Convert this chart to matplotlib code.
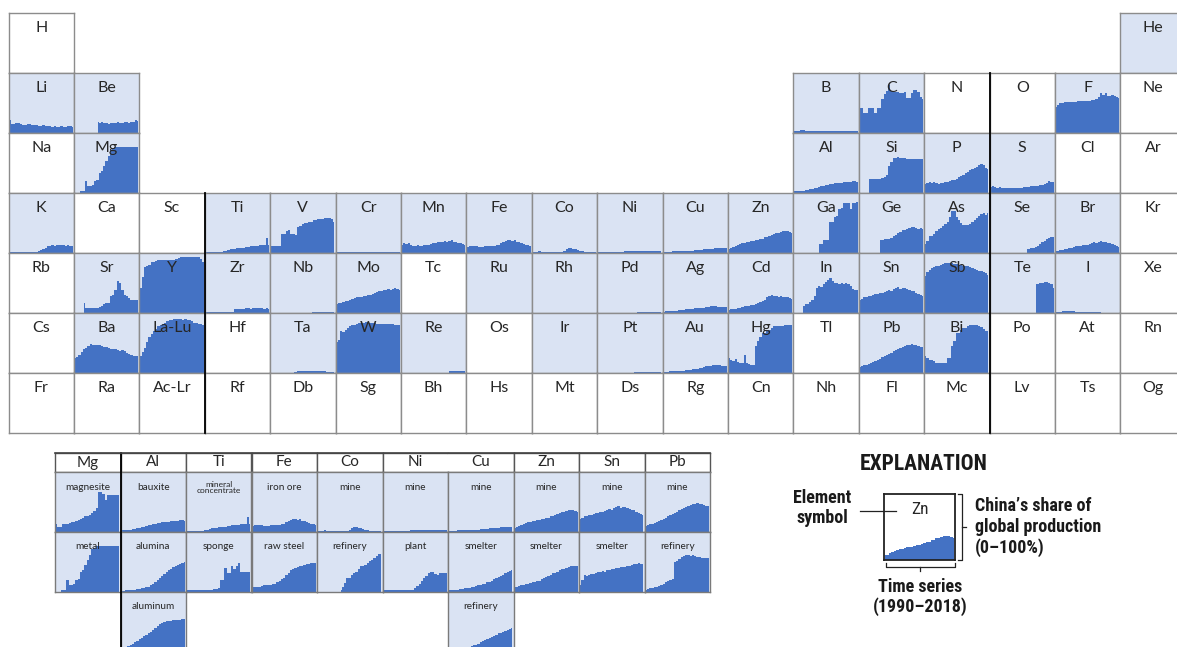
import numpy as np
import matplotlib
matplotlib.use('Agg')
import matplotlib.pyplot as plt
from matplotlib import font_manager

nan = np.nan
years = list(range(1990, 2019))

# China's share of global production (percent)
li = [22,15,15,16,16,15,14,14,15,15,14,13,13,12,12,13,12,11,11,10,11,10,10,11,10,10,11,11,10]
be = [nan]*10 + [19,17,18,16,17,15,16,17,16,18,16,17,18,19,17,19,18,21,20]
mg_metal = [nan,nan,3,3,3,20,11,11,13,20,22,33,37,45,54,62,71,74,77,77,77,77,77,77,77,77,77,77,77]
mg_magnesite = [14,9,9,14,14,14,15,16,17,18,20,22,24,26,27,28,31,35,40,66,66,63,54,61,61,61,61,61,61]
b = [3,4,4,5,5,4,3,3,3,3] + [3]*19
c = [42,42,33,33,42,42,42,33,42,42,56,65,70,80,70,68,68,68,67,66,68,59,59,66,71,71,68,60,56]
f = [44,47,50,50,51,51,51,52,52,52,53,53,53,54,54,54,55,55,56,60,66,64,66,62,62,63,61,60,59]
al_bauxite = [3,3,3,4,4,5,5,6,7,8,9,10,11,12,13,14,15,15,16,16,17,17,18,18,19,19,20,20,19]
al_alumina = [2,2,3,3,3,4,4,5,5,6,7,8,9,11,14,17,20,24,27,30,33,36,38,41,43,45,47,49,50]
al_aluminum = [4,6,8,10,12,14,16,19,22,24,26,28,31,34,37,40,43,46,48,50,51,52,52,53,53,54,54,55,55]
si = [nan,nan,nan,nan,23,23,23,23,23,24,25,27,30,45,52,59,59,60,59,58,59,57,57,57,56,57,56,57,56]
p = [15,16,18,17,19,16,15,16,17,18,19,20,21,22,24,26,28,30,33,35,38,40,42,44,46,48,47,42,40]
s = [10,11,10,9,10,9,9,8,8,8,9,8,8,9,9,10,10,10,11,12,12,12,13,13,15,17,20,19,18]
k = [1]*12 + [2,3,5,7,9,11,12,13,12,13,14,13,14,12,13,12,11]
ti_concentrate = [2,2,2,2,2,2,2,2,3,3,5,6,7,7,8,8,9,9,10,10,11,11,12,12,13,13,14,25,14]
ti_sponge = [4,4,4,4,4,4,4,4,4,4,4,4,5,5,6,20,20,40,31,31,43,38,43,49,34,34,34,34,34]
v = [12,12,12,12,12,32,32,36,38,32,31,30,43,45,48,50,50,51,52,55,55,56,56,57,58,58,58,56,52]
cr = [1]*29
mn = [14,16,15,17,13,12,12,13,12,12,13,13,14,15,16,17,18,19,18,20,19,20,21,19,18,17,16,15,13]
fe_ore = [10,11,11,11,11,10,10,10,11,11,11,12,12,13,14,16,18,20,21,22,20,21,19,18,16,15,14,13,12]
fe_steel = [8,8,9,9,10,11,11,12,12,13,14,16,18,21,24,28,32,36,38,40,42,43,44,45,46,47,48,48,48]
co_mine = [1,1,2,4,1,1,1,1,1,1,1,1,2,2,3,7,8,8,7,6,5,3,3,2,2,2,2,2,2]
co_refinery = [nan]*10 + [3,8,15,23,23,28,32,34,38,43,43,45,48,51,54,57,60,63,63]
ni_mine = [2]*12 + [3]*17
ni_plant = [3]*13 + [4,6,10,14,18,23,27,31,34,34,30,29,31,31,31,31]
cu_mine = [2,2,2,2,3,3,3,3,3,3,4,4,4,4,5,5,5,5,6,6,7,7,7,8,8,8,8,8,8]
cu_smelter = [3,3,3,4,4,5,5,6,6,7,8,9,10,11,12,13,14,16,17,19,21,23,25,27,29,31,33,35,36]
cu_refinery = [3,3,4,4,5,5,6,7,8,9,10,11,12,14,16,18,20,22,24,25,27,29,31,32,34,35,36,38,40]
zn_mine = [7,8,10,12,14,15,16,17,18,19,20,20,21,22,23,24,26,27,28,30,31,33,34,35,37,37,36,35,34]
zn_smelter = [8,9,10,11,12,13,14,15,16,17,18,19,21,23,25,27,29,31,32,34,36,38,39,40,42,43,44,44,43]
ga = [nan]*11 + [15,15,21,21,21,51,51,60,62,73,75,84,84,84,73,84,84,85]
ge = [nan]*9 + [22,22,23,23,24,25,28,30,33,35,38,38,40,42,43,43,42,40,41,40]
as_ = [15,20,29,29,32,36,40,42,45,48,51,60,70,70,60,55,50,47,46,46,48,52,55,59,62,65,66,64,66]
se = [nan]*16 + [7,7,8,8,10,12,15,18,20,23,25,27,26]
br = [3,4,5,5,6,7,8,9,10,11,12,12,13,14,14,15,16,18,17,19,20,18,19,17,16,15,14,12,10]
sr = [nan,nan,nan,nan,17,9,8,8,8,9,9,10,11,15,17,17,28,30,39,53,50,39,30,28,25,22,22,21,22]
y_ = [41,60,76,78,80,85,85,86,88,88,88,88,88,88,88,89,90,92,94,94,94,94,94,94,94,94,94,90,85]
zr = [1]*13 + [6,7,7,7,7,8,8,7,8,8,8,8,8,7,8,7]
nb = [nan]*18 + [1]*11
mo = [15,16,17,18,20,20,22,24,25,26,27,27,28,28,30,30,32,34,35,36,37,38,39,40,38,40,41,40,39]
pd_ = [nan]*17 + [1]*12
ag = [2,3,3,3,4,4,4,5,5,5,6,6,7,7,8,8,8,9,9,10,10,11,11,11,10,10,10,10,10]
cd = [5,6,6,7,8,9,10,11,12,12,13,14,15,16,18,20,22,26,28,30,29,28,27,28,27,26,26,25,24]
in_ = [nan,nan,nan,nan,12,15,15,18,22,28,42,45,44,48,52,55,59,54,50,50,48,50,49,50,48,45,40,38,38]
sn_mine = [22,24,26,27,28,28,30,31,32,33,34,35,36,38,37,40,42,44,40,42,41,40,38,37,36,34,32,30,28]
sn_smelter = [12,20,28,26,28,30,30,32,33,34,35,34,36,37,38,38,40,40,41,42,42,43,44,45,46,47,48,47,46]
sb = [62,68,72,75,77,78,79,80,82,83,83,84,83,82,81,80,80,79,78,78,77,75,74,72,70,70,68,66,64]
te = [nan]*20 + [48,48,50,50,52,52,50,48,42]
i_ = [2,2,2,3,3,3,3,3,3,2,2,2,2,2,2,2,2,2,2,2,2] + [nan]*8
ba = [25,27,30,35,40,42,45,48,47,46,47,46,45,44,43,42,40,40,40,38,37,38,36,34,32,30,29,28,28]
la_lu = [28,35,42,52,60,65,70,74,78,80,82,84,86,88,89,90,90,90,90,88,90,89,88,86,84,83,82,81,80]
ta = [nan]*10 + [2,2,3,3,3,3,4,4,4,3,3,3,3,3,3,2,2,2,2]
w = [52,55,70,68,72,75,78,80,80,82,83,83,84,85,85,84,83,83,82,82,82,82,82,81,81,81,80,80,80]
re = [nan]*21 + [3]*8
pt = [nan]*16 + [1]*13
au = [2,2,2,3,3,3,3,4,4,4,5,5,5,6,6,7,8,9,10,11,12,12,13,13,13,13,12,12,12]
hg = [25,22,20,24,18,17,16,30,16,15,14,14,45,53,60,67,67,70,72,75,78,78,78,78,78,80,80,80,80]
pb_mine = [10,12,13,14,15,17,18,20,22,24,26,28,30,32,34,36,38,40,42,44,45,46,47,48,47,46,45,44,44]
pb_refinery = [4,5,6,7,8,9,10,12,14,16,18,20,22,50,52,55,58,60,62,61,60,61,60,58,58,57,57,56,56]
bi = [28,25,22,22,20,17,17,17,17,17,25,25,45,53,67,67,72,75,75,78,80,80,80,80,78,76,74,70,70]

# periodic table layout
rows = [
    ['H'] + ['']*16 + ['He'],
    ['Li','Be'] + ['']*10 + ['B','C','N','O','F','Ne'],
    ['Na','Mg'] + ['']*10 + ['Al','Si','P','S','Cl','Ar'],
    ['K','Ca','Sc','Ti','V','Cr','Mn','Fe','Co','Ni','Cu','Zn','Ga','Ge','As','Se','Br','Kr'],
    ['Rb','Sr','Y','Zr','Nb','Mo','Tc','Ru','Rh','Pd','Ag','Cd','In','Sn','Sb','Te','I','Xe'],
    ['Cs','Ba','La-Lu','Hf','Ta','W','Re','Os','Ir','Pt','Au','Hg','Tl','Pb','Bi','Po','At','Rn'],
    ['Fr','Ra','Ac-Lr','Rf','Db','Sg','Bh','Hs','Mt','Ds','Rg','Cn','Nh','Fl','Mc','Lv','Ts','Og'],
]
series = {'Li': li, 'Be': be, 'Mg': mg_metal, 'B': b, 'C': c, 'F': f, 'Al': al_bauxite,
          'Si': si, 'P': p, 'S': s, 'K': k, 'Ti': ti_concentrate, 'V': v, 'Cr': cr, 'Mn': mn,
          'Fe': fe_ore, 'Co': co_mine, 'Ni': ni_mine, 'Cu': cu_mine, 'Zn': zn_mine, 'Ga': ga,
          'Ge': ge, 'As': as_, 'Se': se, 'Br': br, 'Sr': sr, 'Y': y_, 'Zr': zr, 'Nb': nb,
          'Mo': mo, 'Pd': pd_, 'Ag': ag, 'Cd': cd, 'In': in_, 'Sn': sn_mine, 'Sb': sb,
          'Te': te, 'I': i_, 'Ba': ba, 'La-Lu': la_lu, 'Ta': ta, 'W': w, 'Re': re, 'Pt': pt,
          'Au': au, 'Hg': hg, 'Pb': pb_mine, 'Bi': bi}
shaded_empty = ['He', 'Ru', 'Rh', 'Ir']

# commodity table below
sub_heads = ['Mg', 'Al', 'Ti', 'Fe', 'Co', 'Ni', 'Cu', 'Zn', 'Sn', 'Pb']
sub_row1 = [('magnesite', mg_magnesite), ('bauxite', al_bauxite), ('mineral\nconcentrate', ti_concentrate),
            ('iron ore', fe_ore), ('mine', co_mine), ('mine', ni_mine), ('mine', cu_mine),
            ('mine', zn_mine), ('mine', sn_mine), ('mine', pb_mine)]
sub_row2 = [('metal', mg_metal), ('alumina', al_alumina), ('sponge', ti_sponge),
            ('raw steel', fe_steel), ('refinery', co_refinery), ('plant', ni_plant),
            ('smelter', cu_smelter), ('smelter', zn_smelter), ('smelter', sn_smelter),
            ('refinery', pb_refinery)]
sub_row3 = {1: ('aluminum', al_aluminum), 6: ('refinery', cu_refinery)}

BLUE = '#4472c4'
LIGHT = '#dae3f3'
EDGE = '#8c8c8c'
TXT = '#262626'
FONT = ['Lato', 'DejaVu Sans']

# pick a narrow face for the explanation, if one is installed
names = {fe.name for fe in font_manager.fontManager.ttflist}
NARROW = ['DejaVu Sans']
for cand in ['Liberation Sans Narrow', 'Roboto Condensed', 'DejaVu Sans Condensed', 'Roboto']:
    if cand in names:
        NARROW = [cand, 'DejaVu Sans']
        break

W, H = 1177, 647
fig = plt.figure(figsize=(W / 100, H / 100), dpi=100)


def cell(x, y, wd, ht, face, data=None, label='', lab_y=0.75, fs=11.5,
         edge=EDGE, lw=1.0, family=FONT):
    ax = fig.add_axes([x / W, 1 - (y + ht) / H, wd / W, ht / H])
    ax.set_facecolor(face)
    ax.set_xlim(1989.5, 2018.5)
    ax.set_ylim(0, 100)
    ax.set_xticks([])
    ax.set_yticks([])
    for sp in ax.spines.values():
        sp.set_color(edge)
        sp.set_linewidth(lw)
    if data is not None:
        ax.fill_between(years, data, 0, step='mid', color=BLUE, lw=0)
    if label:
        ax.text(0.5, lab_y, label, transform=ax.transAxes, ha='center', va='center',
                fontsize=fs, color=TXT, family=family, zorder=5, linespacing=0.9)
    return ax


# main table
x0, y0, cw, rh = 8.5, 13, 65.4, 60
for r, row in enumerate(rows):
    for col, sym in enumerate(row):
        if not sym:
            continue
        data = series.get(sym)
        face = LIGHT if (data is not None or sym in shaded_empty) else 'white'
        cell(x0 + col * cw, y0 + r * rh, cw, rh, face, data, sym)

# lower table
lx, ly, lw_, hh = 55, 453, 65.5, 19
for col, head in enumerate(sub_heads):
    ax = cell(lx + col * lw_, ly, lw_, hh, 'white', None, head, lab_y=0.5, fs=11, edge='#555555')
    if head == 'Cu':
        ax.spines['left'].set_visible(False)
    if head == 'Ni':
        ax.spines['right'].set_visible(False)
for col, (name, data) in enumerate(sub_row1):
    fs = 6 if '\n' in name else 7.2
    cell(lx + col * lw_, ly + hh, lw_, rh, LIGHT, data, name, lab_y=0.74, fs=fs, edge='#7a7a7a')
for col, (name, data) in enumerate(sub_row2):
    cell(lx + col * lw_, ly + hh + rh, lw_, rh, LIGHT, data, name, lab_y=0.76, fs=7.2, edge='#7a7a7a')
for col, (name, data) in sub_row3.items():
    cell(lx + col * lw_, ly + hh + 2 * rh, lw_, rh, LIGHT, data, name, lab_y=0.76, fs=7.2, edge='#7a7a7a')

# explanation box
ex, ey, ew, eh = 884, 494, 71, 66
cell(ex, ey, ew, eh, 'white', zn_mine, 'Zn', lab_y=0.76, fs=12.5, edge='#222222', lw=1.3,
     family=NARROW)

# overlay for rules, brackets and explanation text
ov = fig.add_axes([0, 0, 1, 1], zorder=10)
ov.set_xlim(0, W)
ov.set_ylim(H, 0)
ov.axis('off')
ov.patch.set_alpha(0)
ov.plot([x0 + 3 * cw] * 2, [y0 + 3 * rh, y0 + 7 * rh], color='k', lw=1.3)
ov.plot([x0 + 15 * cw] * 2, [y0 + rh, y0 + 7 * rh], color='k', lw=1.3)
ov.plot([lx + lw_] * 2, [ly, H], color='k', lw=1.3)
ov.plot([lx, lx + 10 * lw_], [ly, ly], color='#444444', lw=1.2)

bold = dict(fontweight='bold', family=NARROW, color='#1a1a1a')
ov.text(924, 464, 'EXPLANATION', ha='center', va='center', fontsize=15.5, **bold)
ov.text(822, 508, 'Element\nsymbol', ha='center', va='center', fontsize=13,
        linespacing=1.15, **bold)
ov.plot([860, 896], [511, 511], color='#222222', lw=0.9)
# right bracket
bx = ex + ew + 7
ov.plot([bx - 4, bx, bx, bx - 4], [ey, ey, ey + eh, ey + eh], color='#222222', lw=0.9)
ov.plot([bx, bx + 4], [ey + eh / 2] * 2, color='#222222', lw=0.9)
ov.text(975, 527, 'China\u2019s share of\nglobal production\n(0\u2013100%)', ha='left',
        va='center', fontsize=13, linespacing=1.15, **bold)
# bottom bracket
by = ey + eh + 7
ov.plot([ex + 2, ex + 2, ex + ew, ex + ew], [by - 4, by, by, by - 4], color='#222222', lw=0.9)
ov.plot([ex + ew / 2] * 2, [by, by + 4], color='#222222', lw=0.9)
ov.text(ex + ew / 2 + 1, 597, 'Time series\n(1990\u20132018)', ha='center', va='center',
        fontsize=13, linespacing=1.15, **bold)

fig.savefig('out.png', dpi=100)
